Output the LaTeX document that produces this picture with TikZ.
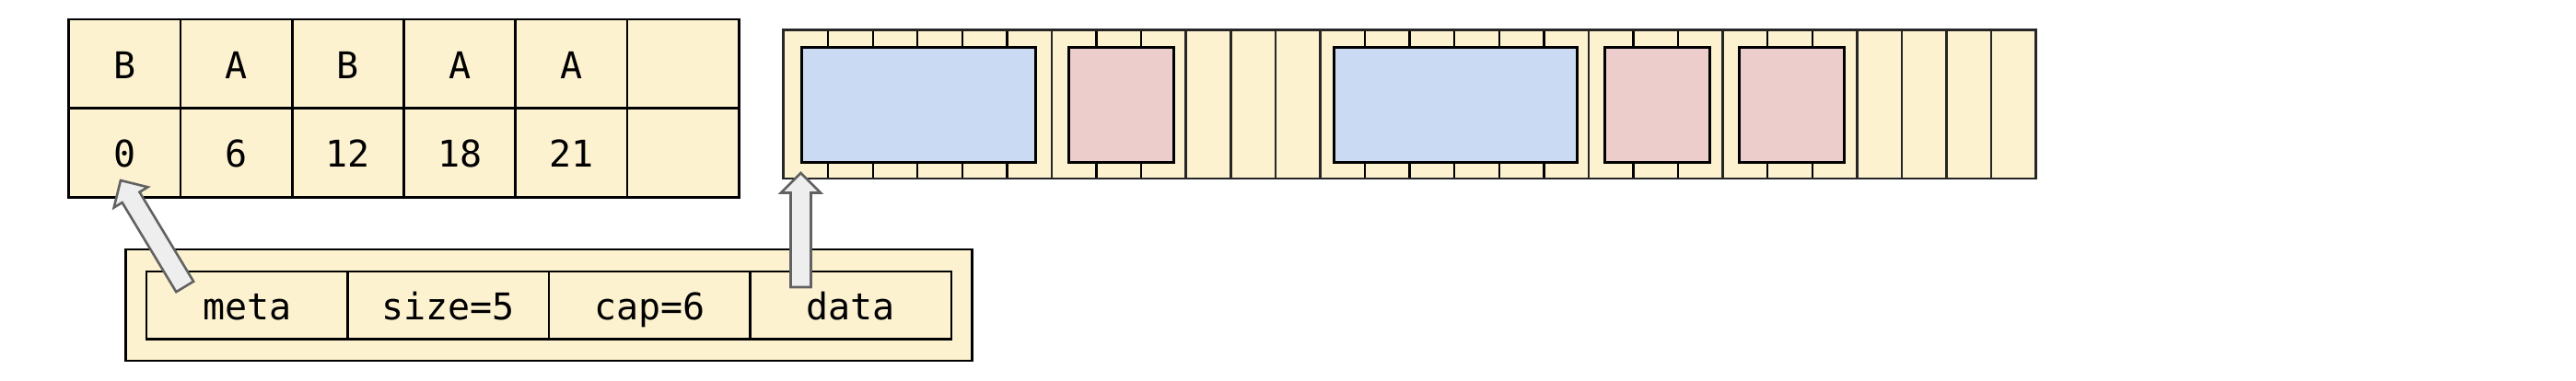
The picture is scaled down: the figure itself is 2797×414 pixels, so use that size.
\documentclass[tikz,border=0pt]{standalone}
\usepackage{fontspec}
\newfontfamily\codefont{DejaVu Sans Mono}
\usetikzlibrary{calc}
\definecolor{cream}{HTML}{FDF2D0}
\definecolor{lblue}{HTML}{CADAF3}
\definecolor{lred}{HTML}{EDCDCC}
\definecolor{arrfill}{HTML}{EEEEEE}
\definecolor{arrdraw}{HTML}{626262}
\newcommand\fatarrow[2]{%
  \draw[fatarrow]
    ($(#1)!11pt!90:(#2)$) --
    ($(#2)!21.5pt!(#1)!11pt!90:(#2)$) --
    ($(#2)!21.5pt!(#1)!21.5pt!90:(#2)$) --
    (#2) --
    ($(#2)!21.5pt!(#1)!21.5pt!-90:(#2)$) --
    ($(#2)!21.5pt!(#1)!11pt!-90:(#2)$) --
    ($(#1)!11pt!-90:(#2)$) -- cycle;}
\begin{document}
\begin{tikzpicture}[x=1pt,y=-1pt,
  txt/.style={font=\codefont\fontsize{40}{48}\selectfont, text height=32pt, text depth=0pt, inner sep=0pt},
  tcell/.style={txt, draw=black, line width=2.7pt, fill=cream, minimum width=121.3pt, minimum height=96.5pt},
  scell/.style={txt, draw=black, line width=2.7pt, fill=cream, minimum width=218.5pt, minimum height=73.3pt},
  outerbox/.style={draw=black, line width=2.7pt, fill=cream, minimum width=918.9pt, minimum height=121pt, inner sep=0pt},
  barline/.style={draw=black!85, line width=2.6pt},
  tickline/.style={draw=black, line width=2.3pt},
  blk/.style={draw=black, line width=3pt},
  fatarrow/.style={draw=arrdraw, fill=arrfill, line width=2.6pt, line join=miter},
]
\useasboundingbox (0,0) rectangle (2797,414);

% left table
\foreach \t [count=\i from 0] in {B,A,B,A,A,{}}
  \node[tcell] (ra\i) at ({74.6+121.3*(\i+0.5)},69.25) {\t};
\foreach \t [count=\i from 0] in {0,6,12,18,21,{}}
  \node[tcell] (rb\i) at ({74.6+121.3*(\i+0.5)},166) {\t};

% memory bar
\fill[cream] (850.5,32.5) rectangle (2210.7,194);
\foreach \k in {0,6,9,10,11,12,18,21,24,25,26,27,28}
  \draw[barline] ({850.5+48.58*\k},32.5) -- ({850.5+48.58*\k},194);
\foreach \k in {1,2,3,4,5,7,8,13,14,15,16,17,19,20,22,23} {
  \draw[tickline] ({850.5+48.58*\k},32.5) -- ({850.5+48.58*\k},51.5);
  \draw[tickline] ({850.5+48.58*\k},176.7) -- ({850.5+48.58*\k},194);
}
\draw[barline] (850.5,32.5) rectangle (2210.7,194);
\draw[blk, fill=lblue] (870,51.5) rectangle (1124,176.7);
\draw[blk, fill=lred] (1160.7,51.5) rectangle (1274,176.7);
\draw[blk, fill=lblue] (1448.3,51.5) rectangle (1712,176.7);
\draw[blk, fill=lred] (1742.7,51.5) rectangle (1856.7,176.7);
\draw[blk, fill=lred] (1888.3,51.5) rectangle (2002.3,176.7);

% struct
\node[outerbox] (struct) at (596.05,331.5) {};
\foreach \t [count=\i from 0] in {meta,size=5,cap=6,data}
  \node[scell] (s\i) at ({159+218.5*(\i+0.5)},331.65) {\t};

% arrows
\coordinate (a1tail) at (200.7,311.5);
\coordinate (a1tip) at (131,196);
\coordinate (a2tail) at (869.5,312);
\coordinate (a2tip) at (869.5,188);
\fatarrow{a1tail}{a1tip}
\fatarrow{a2tail}{a2tip}
\end{tikzpicture}
\end{document}
